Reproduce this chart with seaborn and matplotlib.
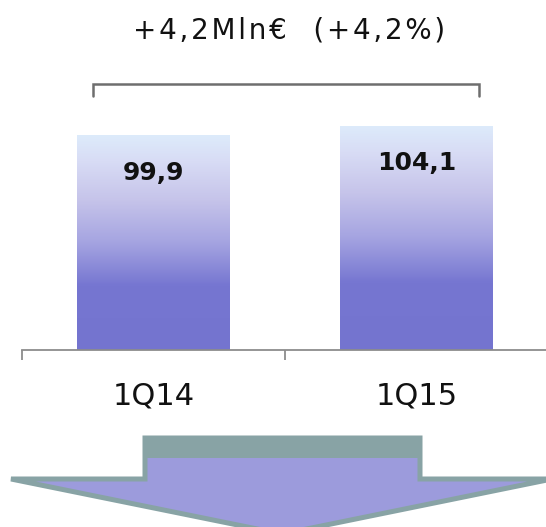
import numpy as np
import pandas as pd
import matplotlib
matplotlib.use("Agg")
import matplotlib.pyplot as plt
from matplotlib.colors import LinearSegmentedColormap
from matplotlib.patches import Polygon, Rectangle
import seaborn as sns

# ---- data ----
categories = ["1Q14", "1Q15"]
values = [99.9, 104.1]
value_labels = ["99,9", "104,1"]
headline_parts = ["+4,2Mln€", "(+4,2%)"]

sns.set_theme(style="white")
plt.rcParams["font.family"] = ["DejaVu Sans"]

W, H = 546, 527
fig = plt.figure(figsize=(W / 100, H / 100), dpi=100)
fig.patch.set_facecolor("white")

# main axes: bottom spine at y=350px, x from 22px to 548px
ax_left, ax_bottom = 22 / W, (H - 350) / H
ax = fig.add_axes([ax_left, ax_bottom, 526 / W, 350 / H])

df = pd.DataFrame({"cat": categories, "val": values})
sns.barplot(data=df, x="cat", y="val", width=0.58, color="#7474cf", ax=ax)

grad = LinearSegmentedColormap.from_list(
    "bargrad",
    [(0.0, "#ddebfb"), (0.12, "#d8dcf5"), (0.3, "#c6c4ea"),
     (0.5, "#a5a4e1"), (0.7, "#7676d1"), (1.0, "#7474cf")])
gimg = grad(np.linspace(0, 1, 256))[:, None, :]
for p in ax.patches:
    x0, w, h = p.get_x(), p.get_width(), p.get_height()
    im = ax.imshow(gimg, extent=(x0, x0 + w, 0, h), origin="upper",
                   aspect="auto", interpolation="bilinear", zorder=2)
    im.set_clip_path(p)
    p.set_edgecolor("none")

ax.set_xlim(-0.5, 1.5)
ax.set_ylim(0, 350 / 2.152)

for i, (v, lab) in enumerate(zip(values, value_labels)):
    ax.annotate(lab, xy=(i, v), xytext=(0, -27), textcoords="offset points",
                ha="center", va="center", fontsize=18, fontweight="bold",
                color="#111111", zorder=5)

for s in ["top", "left", "right"]:
    ax.spines[s].set_visible(False)
ax.spines["bottom"].set_color("#8c8c8c")
ax.spines["bottom"].set_linewidth(1.3)
ax.set_yticks([])
ax.set_xlabel("")
ax.set_ylabel("")
ax.set_xticks(range(len(categories)))
ax.set_xticklabels(categories, fontsize=22, color="#111111")
ax.tick_params(axis="x", which="major", length=0, pad=23)
ax.set_xticks([-0.5, 0.5, 1.5], minor=True)
ax.tick_params(axis="x", which="minor", length=7.5, width=1.3,
               color="#8c8c8c", bottom=True)
ax.patch.set_visible(False)

# overlay axes in pixel coordinates for decorations
ov = fig.add_axes([0, 0, 1, 1], zorder=-1)
ov.set_xlim(0, W)
ov.set_ylim(H, 0)
ov.axis("off")
ov.patch.set_alpha(0)

spaced = "   ".join("\u200a".join(part) for part in headline_parts)
ov.text(289, 31, spaced, ha="center", va="center", fontsize=20,
        color="#111111")
ov.plot([93, 93, 479, 479], [96, 84, 84, 96], color="#6e6e6e", lw=1.8,
        solid_joinstyle="miter")

arrow = Polygon([(145, 438), (420, 438), (420, 479), (552, 479),
                 (282, 534), (11, 479), (145, 479)], closed=True,
                facecolor="#9c9bdc", edgecolor="#88a3a5", lw=3.6,
                joinstyle="miter")
ov.add_patch(arrow)
ov.add_patch(Rectangle((145, 438), 275, 20, facecolor="#88a3a5",
                       edgecolor="none"))

fig.savefig("out.png", dpi=100, facecolor="white")
